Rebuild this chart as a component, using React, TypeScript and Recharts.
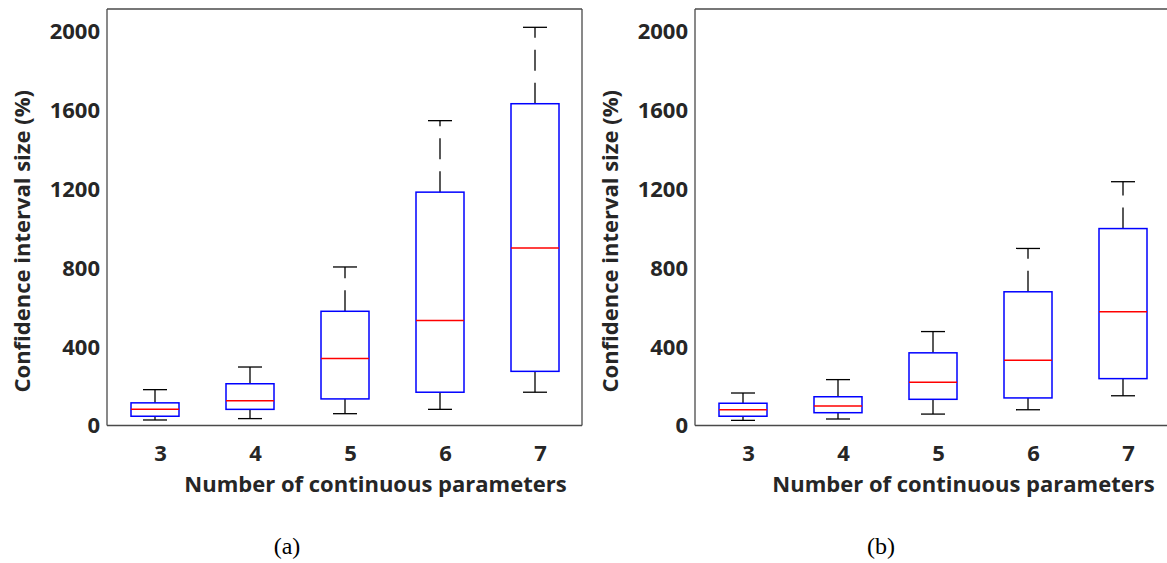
import { Bar, ComposedChart, XAxis, YAxis } from "recharts"

const categories = ["3", "4", "5", "6", "7"]
const yTicks = [0, 400, 800, 1200, 1600, 2000]
const yDomain: [number, number] = [0, 2115]

// panel (a)
const lowA = [28, 35, 60, 82, 169]
const q1A = [47, 82, 135, 169, 275]
const medA = [82, 126, 340, 533, 901]
const q3A = [115, 212, 580, 1185, 1634]
const highA = [182, 297, 805, 1548, 2022]

// panel (b)
const lowB = [26, 33, 58, 80, 151]
const q1B = [47, 65, 133, 140, 238]
const medB = [80, 99, 220, 331, 577]
const q3B = [113, 146, 369, 679, 1000]
const highB = [165, 233, 477, 899, 1238]

const xTitle = "Number of continuous parameters"
const yTitle = "Confidence interval size (%)"

const textColor = "#262626"
const axisColor = "#4a4a4a"
const font = "'Open Sans', Lato, sans-serif"

type BoxRow = {
  cat: string
  low: number
  q1: number
  med: number
  q3: number
  high: number
  range: [number, number]
}

function buildRows(low: number[], q1: number[], med: number[], q3: number[], high: number[]): BoxRow[] {
  return categories.map((cat, i) => ({
    cat,
    low: low[i],
    q1: q1[i],
    med: med[i],
    q3: q3[i],
    high: high[i],
    range: [low[i], high[i]],
  }))
}

const rowsA = buildRows(lowA, q1A, medA, q3A, highA)
const rowsB = buildRows(lowB, q1B, medB, q3B, highB)

// the bar spans low..high, so its pixel height gives the scale for the inner marks
function BoxShape(props: any) {
  const { x, y, width, height, payload } = props
  const { low, q1, med, q3, high } = payload as BoxRow
  const k = height / (high - low)
  const py = (v: number) => y + (high - v) * k
  const cx = x + width / 2
  const cap = width / 4
  return (
    <g>
      <line x1={cx} x2={cx} y1={py(q3)} y2={py(high)} stroke="#000" strokeWidth={1.3} strokeDasharray="21 12" />
      <line x1={cx} x2={cx} y1={py(q1)} y2={py(low)} stroke="#000" strokeWidth={1.3} strokeDasharray="21 12" />
      <line x1={cx - cap} x2={cx + cap} y1={py(high)} y2={py(high)} stroke="#000" strokeWidth={1.3} />
      <line x1={cx - cap} x2={cx + cap} y1={py(low)} y2={py(low)} stroke="#000" strokeWidth={1.3} />
      <rect x={x} y={py(q3)} width={width} height={py(q1) - py(q3)} fill="none" stroke="#0000ff" strokeWidth={1.5} />
      <line x1={x} x2={x + width} y1={py(med)} y2={py(med)} stroke="#ff0000" strokeWidth={1.5} />
    </g>
  )
}

function XTitle({ viewBox }: any) {
  return (
    <text
      x={viewBox.x + viewBox.width / 2 + 31}
      y={viewBox.y + 66}
      textAnchor="middle"
      fill={textColor}
      fontSize={22}
      fontWeight={700}
      fontFamily={font}
    >
      {xTitle}
    </text>
  )
}

function YTitle({ viewBox }: any) {
  const cx = viewBox.x + 21
  const cy = viewBox.y + viewBox.height / 2 + 24
  return (
    <text
      x={cx}
      y={cy}
      transform={`rotate(-90 ${cx} ${cy})`}
      textAnchor="middle"
      dominantBaseline="central"
      fill={textColor}
      fontSize={22}
      fontWeight={700}
      fontFamily={font}
    >
      {yTitle}
    </text>
  )
}

const tickStyle = { fill: textColor, fontSize: 22, fontWeight: 700, fontFamily: font }
const lineStyle = { stroke: axisColor, strokeWidth: 1.3 }

function Panel({ rows, left }: { rows: BoxRow[]; left: number }) {
  return (
    <div style={{ position: "absolute", left, top: 0 }}>
      <ComposedChart width={590} height={500} data={rows} margin={{ top: 9, right: 8, left: 0, bottom: 0 }}>
        <XAxis
          xAxisId="b"
          dataKey="cat"
          height={74.5}
          tickLine={false}
          tickSize={0}
          tickMargin={20}
          tick={{ ...tickStyle, dx: 6 }}
          axisLine={lineStyle}
          label={{ value: xTitle, content: (p: any) => <XTitle viewBox={p.viewBox} /> }}
        />
        <XAxis xAxisId="bm" dataKey="cat" height={1} mirror tick={false} tickSize={5} tickLine={lineStyle} axisLine={false} />
        <XAxis xAxisId="t" dataKey="cat" orientation="top" height={1} mirror tick={false} tickSize={5} tickLine={lineStyle} axisLine={lineStyle} />
        <YAxis
          yAxisId="l"
          width={107}
          domain={yDomain}
          ticks={yTicks}
          tickLine={false}
          tickSize={0}
          tickMargin={7}
          tick={tickStyle}
          axisLine={lineStyle}
          label={{ value: yTitle, content: (p: any) => <YTitle viewBox={p.viewBox} /> }}
        />
        <YAxis yAxisId="lm" width={1} mirror domain={yDomain} ticks={yTicks} tick={false} tickSize={5} tickLine={lineStyle} axisLine={false} />
        <YAxis yAxisId="r" orientation="right" width={1} mirror domain={yDomain} ticks={yTicks} tick={false} tickSize={5} tickLine={lineStyle} axisLine={lineStyle} />
        <Bar xAxisId="b" yAxisId="l" dataKey="range" barSize={48} shape={BoxShape} isAnimationActive={false} />
      </ComposedChart>
    </div>
  )
}

export default function App() {
  return (
    <div style={{ position: "absolute", left: 0, top: 0, width: 1167, height: 563, overflow: "hidden", background: "#fff" }}>
      <Panel rows={rowsA} left={0} />
      <Panel rows={rowsB} left={588} />
      <svg width={1167} height={563} style={{ position: "absolute", left: 0, top: 0, pointerEvents: "none" }}>
        <text x={287} y={554} textAnchor="middle" fontSize={24} fontFamily="'Liberation Serif', 'Times New Roman', serif" fill="#000">
          (a)
        </text>
        <text x={881} y={554} textAnchor="middle" fontSize={24} fontFamily="'Liberation Serif', 'Times New Roman', serif" fill="#000">
          (b)
        </text>
      </svg>
    </div>
  )
}
